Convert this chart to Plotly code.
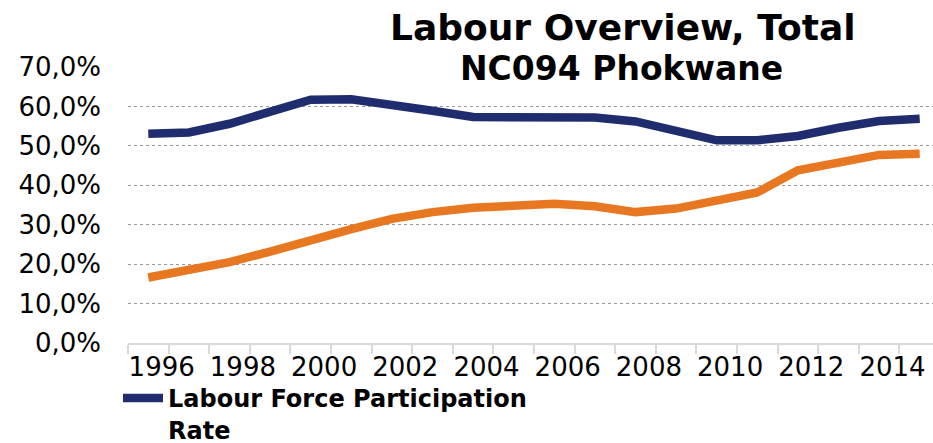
import plotly.graph_objects as go

# Annual series, NC094 Phokwane (percent)
years = list(range(1996, 2016))
participation_rate = [53.1, 53.4, 55.6, 58.9, 61.7, 61.8, 60.6, 58.9, 57.3, 57.2,
                      57.3, 57.2, 56.2, 53.8, 51.4, 51.4, 52.5, 54.6, 56.3, 56.9]
absorption_rate = [16.6, 18.6, 20.5, 23.2, 26.2, 28.9, 31.5, 33.2, 34.3, 34.9,
                   35.3, 34.7, 33.2, 34.1, 36.4, 38.2, 43.8, 45.7, 47.7, 48.0]
label_years = list(range(1996, 2016, 2))
y_ticks = [0, 10, 20, 30, 40, 50, 60, 70]
y_tick_text = [f"{v},0%" for v in y_ticks]

W, H = 933, 443
M_L, M_R, M_T, M_B = 128, 0, 67, 100
FONT = "DejaVu Sans"
NAVY = "#1f2d6e"
ORANGE = "#e87722"


def px_to_paper_x(px):
    return (px - M_L) / (W - M_L - M_R)


def px_to_paper_y(py):
    return (H - M_B - py) / (H - M_T - M_B)


fig = go.Figure()
fig.add_trace(go.Scatter(
    x=years, y=participation_rate, mode="lines",
    name="Labour Force Participation<br>Rate",
    line=dict(color=NAVY, width=8.5),
))
fig.add_trace(go.Scatter(
    x=years, y=absorption_rate, mode="lines",
    name="Labour Absorption Rate", showlegend=False,
    line=dict(color=ORANGE, width=8.5),
))

fig.update_layout(
    width=W, height=H,
    margin=dict(l=M_L, r=M_R, t=M_T, b=M_B, pad=0, autoexpand=False),
    paper_bgcolor="white", plot_bgcolor="white",
    font=dict(family=FONT, size=26, color="black"),
    showlegend=True,
    legend=dict(
        x=px_to_paper_x(118), y=px_to_paper_y(376),
        xanchor="left", yanchor="top",
        orientation="h", valign="top",
        font=dict(family=FONT, size=24, color="black", weight="bold"),
        bgcolor="rgba(0,0,0,0)", itemwidth=40, tracegroupgap=0,
    ),
)

fig.update_xaxes(
    range=[1995.5, 1995.5 + (W - M_L - M_R) / 40.6],
    tickmode="array",
    tickvals=[y + 0.33 for y in label_years],
    ticktext=[str(y) for y in label_years],
    ticks="", showgrid=False, zeroline=False,
    showline=True, linecolor="#d9d9d9", linewidth=2,
    tickfont=dict(family=FONT, size=26, color="black"),
    ticklabelstandoff=0,
    minor=dict(
        tickmode="array",
        tickvals=[y - 0.5 for y in years] + [years[-1] + 0.5],
        ticks="outside", ticklen=9, tickwidth=1.5, tickcolor="#d9d9d9",
        showgrid=False,
    ),
)

fig.update_yaxes(
    range=[0, 70],
    tickmode="array", tickvals=y_ticks, ticktext=y_tick_text,
    showgrid=True, gridcolor="#9a9a9a", gridwidth=1, griddash="dot",
    zeroline=False, showline=False, ticks="",
    tickfont=dict(family=FONT, size=26, color="black"),
    ticklabelstandoff=26,
)

fig.add_annotation(
    text="<b>Labour Overview, Total</b>",
    xref="paper", yref="paper",
    x=px_to_paper_x(623), y=px_to_paper_y(27),
    xanchor="center", yanchor="middle", showarrow=False,
    font=dict(family=FONT, size=36, color="black"),
)
fig.add_annotation(
    text="<b>NC094 Phokwane</b>",
    xref="paper", yref="paper",
    x=px_to_paper_x(621), y=px_to_paper_y(68),
    xanchor="center", yanchor="middle", showarrow=False,
    font=dict(family=FONT, size=33, color="black"),
)

fig.write_html("out.html")
